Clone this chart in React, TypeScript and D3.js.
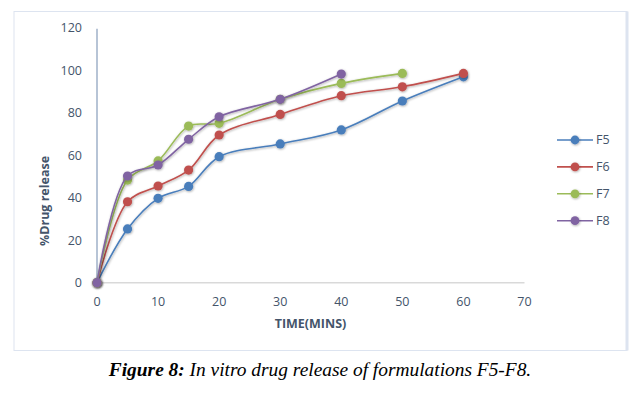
import React from "react";
import * as d3 from "d3";

const times = [0, 5, 10, 15, 20, 30, 40, 50, 60];
const f5 = [0, 25.3, 39.7, 45.3, 59.3, 65.3, 71.9, 85.5, 96.9];
const f6 = [0, 38.1, 45.5, 53, 69.5, 79.2, 88, 92.2, 98.5];
const f7 = [0, 48.3, 57.3, 73.7, 75, 86.3, 93.8, 98.5];
const f8 = [0, 50.2, 55.4, 67.5, 78.1, 86.3, 98.2];
const seriesNames = ["F5", "F6", "F7", "F8"];
const seriesValues = [f5, f6, f7, f8];
const seriesColors = ["#4a7ebb", "#c0504d", "#9bbb59", "#8064a2"];
const xTicks = [0, 10, 20, 30, 40, 50, 60, 70];
const yTicks = [0, 20, 40, 60, 80, 100, 120];

const W = 642;
const H = 394;

export default function App() {
  const x = d3.scaleLinear().domain([0, 70]).range([97, 524.5]);
  const y = d3.scaleLinear().domain([0, 120]).range([282.7, 27.7]);

  const line = d3
    .line<[number, number]>()
    .x((d) => x(d[0]))
    .y((d) => y(d[1]))
    .curve(d3.curveCatmullRom.alpha(0.5));

  const labelFont = "'Open Sans', 'DejaVu Sans', sans-serif";
  const tickColor = "#44546a";

  return (
    <svg
      width={W}
      height={H}
      style={{ position: "absolute", left: 0, top: 0 }}
      xmlns="http://www.w3.org/2000/svg"
    >
      <defs>
        <filter id="shadow" x="-50%" y="-50%" width="200%" height="200%">
          <feDropShadow dx="0.6" dy="0.8" stdDeviation="0.8" floodColor="#000" floodOpacity="0.35" />
        </filter>
      </defs>
      <rect x={0} y={0} width={W} height={H} fill="#fff" />
      {/* chart frame */}
      <rect x={14} y={11.5} width={613} height={339} fill="#fff" stroke="#dde4f0" strokeWidth={1} />
      <line x1={627} x2={627} y1={11.5} y2={350.5} stroke="#dde4f0" strokeWidth={3} />

      {/* axes */}
      <line x1={x(0)} x2={x(70)} y1={y(0)} y2={y(0)} stroke="#d9d9d9" strokeWidth={1.5} />
      <line x1={x(0)} x2={x(0)} y1={y(120) + 1} y2={y(0)} stroke="#9fb0c8" strokeWidth={1.5} />

      {yTicks.map((t) => (
        <text
          key={"y" + t}
          x={82}
          y={y(t)}
          dy="0.35em"
          textAnchor="end"
          fontFamily={labelFont}
          fontSize={12.5}
          fill={tickColor}
        >
          {t}
        </text>
      ))}
      {xTicks.map((t) => (
        <text
          key={"x" + t}
          x={x(t)}
          y={301.7}
          dy="0.35em"
          textAnchor="middle"
          fontFamily={labelFont}
          fontSize={12.5}
          fill={tickColor}
        >
          {t}
        </text>
      ))}

      <text
        x={310.5}
        y={323.5}
        dy="0.35em"
        textAnchor="middle"
        fontFamily={labelFont}
        fontSize={12.5}
        fontWeight="bold"
        fill={tickColor}
      >
        TIME(MINS)
      </text>
      <text
        transform={`translate(45,201) rotate(-90)`}
        dy="0.35em"
        textAnchor="middle"
        fontFamily={labelFont}
        fontSize={12.5}
        fontWeight="bold"
        fill={tickColor}
      >
        %Drug release
      </text>

      {/* series */}
      {seriesValues.map((vals, i) => {
        const pts = vals.map((v, j) => [times[j], v] as [number, number]);
        return (
          <g key={seriesNames[i]} filter="url(#shadow)">
            <path d={line(pts) || ""} fill="none" stroke={seriesColors[i]} strokeWidth={1.6} />
            {pts.map((p, j) => (
              <circle key={j} cx={x(p[0])} cy={y(p[1])} r={4.6} fill={seriesColors[i]} />
            ))}
          </g>
        );
      })}

      {/* legend */}
      {seriesNames.map((n, i) => {
        const ly = 140 + i * 26.9;
        return (
          <g key={"lg" + n}>
            <line x1={557} x2={593} y1={ly} y2={ly} stroke={seriesColors[i]} strokeWidth={1.6} />
            <circle cx={575} cy={ly} r={4.4} fill={seriesColors[i]} filter="url(#shadow)" />
            <text x={596} y={ly} dy="0.35em" fontFamily={labelFont} fontSize={12.5} fill={tickColor}>
              {n}
            </text>
          </g>
        );
      })}

      {/* caption */}
      <text
        x={320}
        y={375.5}
        textAnchor="middle"
        fontFamily="'Liberation Serif', 'Times New Roman', serif"
        fontStyle="italic"
        fontSize={19.4}
        fill="#000"
      >
        <tspan fontWeight="bold">Figure 8:</tspan>
        <tspan> In vitro drug release of formulations F5-F8.</tspan>
      </text>
    </svg>
  );
}
